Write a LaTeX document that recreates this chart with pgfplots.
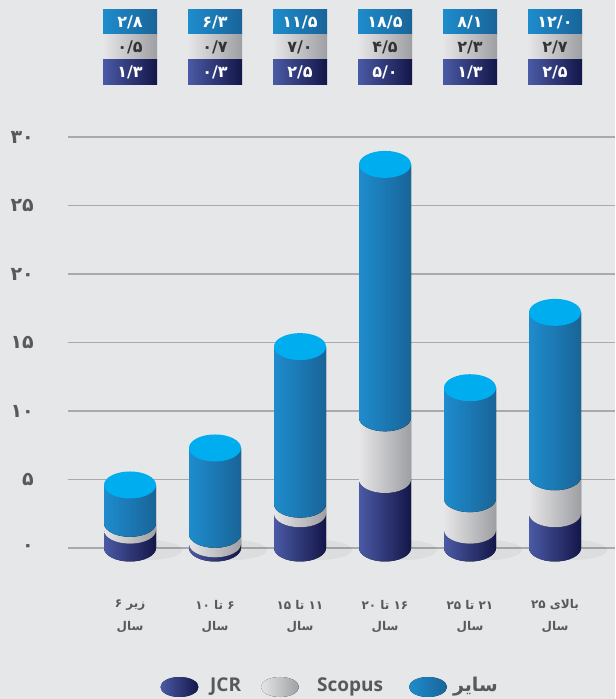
\documentclass[border=0pt]{standalone}
\usepackage{fontspec}
\setmainfont{Open Sans}
\newfontfamily\fa[Script=Arabic]{DejaVu Sans}
\usepackage{pgfplots}
\usepackage{pgfplotstable}
\pgfplotsset{compat=1.18}
\TeXXeTstate=1

\definecolor{bg}{RGB}{230,231,233}
\definecolor{gridc}{RGB}{170,170,172}
\definecolor{txt}{RGB}{88,89,91}
\definecolor{navyL}{RGB}{74,90,165}
\definecolor{navyR}{RGB}{20,22,72}
\definecolor{grayL}{RGB}{230,230,232}
\definecolor{grayR}{RGB}{158,159,163}
\definecolor{blueL}{RGB}{30,140,205}
\definecolor{blueR}{RGB}{25,100,152}
\definecolor{capc}{RGB}{0,174,239}

% stacked values: JCR, Scopus, other
\pgfplotstableread{
x jcr scopus other
0 1.3 0.5 2.8
1 0.3 0.7 6.3
2 2.5 0.7 11.5
3 5.0 4.5 18.5
4 1.3 2.3 8.1
5 2.5 2.7 12.0
}\datatable

% one cylinder slice from #2 to #3 at category #1
\newcommand\seg[5]{%
  \fill[left color=#4, right color=#5]
    ([xshift=-26pt]axis cs:#1,#3) -- ([xshift=-26pt]axis cs:#1,#2)
    arc[start angle=180, end angle=360, x radius=26pt, y radius=13.5pt]
    -- ([xshift=26pt]axis cs:#1,#3) -- cycle;}
\newcommand\cum[2]{\csname cum#1#2\endcsname}

% header box for category #1
\newcommand\hf{\fa\bfseries\fontsize{16}{18}\selectfont}
\newcommand\head[4]{%
  \fill[left color=blueL, right color=blueR] ([xshift=-27pt]axis cs:#1,39.270) rectangle ([xshift=27pt]axis cs:#1,37.445);
  \fill[left color=grayL, right color=grayR] ([xshift=-27pt]axis cs:#1,37.445) rectangle ([xshift=27pt]axis cs:#1,35.620);
  \fill[left color=navyL, right color=navyR] ([xshift=-27pt]axis cs:#1,35.620) rectangle ([xshift=27pt]axis cs:#1,33.796);
  \node[text=white, font=\hf] at (axis cs:#1,38.36) {#2};
  \node[text=black!80, font=\hf] at (axis cs:#1,36.53) {#3};
  \node[text=white, font=\hf] at (axis cs:#1,34.71) {#4};}
\newcommand\cf{\fa\bfseries\fontsize{12}{14}\selectfont}
\newcommand\cat[3]{%
  \node[text=txt, font=\cf] at (axis cs:#1,-4.16) {#2};
  \node[text=txt, font=\cf] at (axis cs:#1,-5.77) {#3};}
\newcommand\yf{\fa\bfseries\fontsize{19}{21}\selectfont}

\begin{document}
\begin{tikzpicture}
\fill[bg] (0,0) rectangle (615pt,699pt);

\pgfplotsinvokeforeach{0,...,5}{%
  \pgfplotstablegetelem{#1}{jcr}\of\datatable\let\va\pgfplotsretval
  \pgfplotstablegetelem{#1}{scopus}\of\datatable\let\vb\pgfplotsretval
  \pgfplotstablegetelem{#1}{other}\of\datatable\let\vc\pgfplotsretval
  \pgfmathsetmacro\tmpa{\va}\expandafter\xdef\csname cuma#1\endcsname{\tmpa}
  \pgfmathsetmacro\tmpb{\va+\vb}\expandafter\xdef\csname cumb#1\endcsname{\tmpb}
  \pgfmathsetmacro\tmpc{\va+\vb+\vc}\expandafter\xdef\csname cumc#1\endcsname{\tmpc}
}

\begin{axis}[at={(0,0)}, anchor=south west, scale only axis,
  width=615pt, height=699pt,
  xmin=-1.52941, xmax=5.70588, ymin=-11.0219, ymax=40,
  hide axis, clip=false]

% grid and y labels
\pgfplotsinvokeforeach{0,5,...,30}{%
  \draw[gridc, line width=1.4pt] (axis cs:-0.7294,#1) -- (axis cs:5.70588,#1);}
\node[anchor=east, text=txt, font=\yf, inner sep=0pt] at (axis cs:-1.1294,0) {۰};
\node[anchor=east, text=txt, font=\yf, inner sep=0pt] at (axis cs:-1.1294,5) {۵};
\node[anchor=east, text=txt, font=\yf, inner sep=0pt] at (axis cs:-1.1294,10) {۱۰};
\node[anchor=east, text=txt, font=\yf, inner sep=0pt] at (axis cs:-1.1294,15) {۱۵};
\node[anchor=east, text=txt, font=\yf, inner sep=0pt] at (axis cs:-1.1294,20) {۲۰};
\node[anchor=east, text=txt, font=\yf, inner sep=0pt] at (axis cs:-1.1294,25) {۲۵};
\node[anchor=east, text=txt, font=\yf, inner sep=0pt] at (axis cs:-1.1294,30) {۳۰};

% cylinders
\pgfplotsinvokeforeach{0,...,5}{%
  \fill[black, opacity=0.045] ([xshift=18pt,yshift=-2pt]axis cs:#1,0) ellipse[x radius=34pt, y radius=10pt];
  \edef\temp{%
    \noexpand\seg{#1}{0}{\cum{a}{#1}}{navyL}{navyR}%
    \noexpand\seg{#1}{\cum{a}{#1}}{\cum{b}{#1}}{grayL}{grayR}%
    \noexpand\seg{#1}{\cum{b}{#1}}{\cum{c}{#1}}{blueL}{blueR}%
    \noexpand\fill[capc] (axis cs:#1,\cum{c}{#1}) ellipse[x radius=26pt, y radius=13.5pt];}%
  \temp
}

% header table
\head{0}{۲/۸}{۰/۵}{۱/۳}
\head{1}{۶/۳}{۰/۷}{۰/۳}
\head{2}{۱۱/۵}{۷/۰}{۲/۵}
\head{3}{۱۸/۵}{۴/۵}{۵/۰}
\head{4}{۸/۱}{۲/۳}{۱/۳}
\head{5}{۱۲/۰}{۲/۷}{۲/۵}

% category labels
\cat{0}{\beginR زیر ۶\endR}{\beginR سال\endR}
\cat{1}{\beginR ۶ تا ۱۰\endR}{\beginR سال\endR}
\cat{2}{\beginR ۱۱ تا ۱۵\endR}{\beginR سال\endR}
\cat{3}{\beginR ۱۶ تا ۲۰\endR}{\beginR سال\endR}
\cat{4}{\beginR ۲۱ تا ۲۵\endR}{\beginR سال\endR}
\cat{5}{\beginR بالای ۲۵\endR}{\beginR سال\endR}

% legend
\fill[left color=navyL, right color=navyR] (axis cs:0.5824,-10.146) ellipse[x radius=19pt, y radius=10pt];
\node[anchor=west, text=txt, font=\bfseries\fontsize{19}{21}\selectfont, inner sep=0pt] at (axis cs:0.9412,-10.146) {JCR};
\fill[left color=grayL, right color=grayR] (axis cs:1.7647,-10.146) ellipse[x radius=19pt, y radius=10pt];
\node[anchor=west, text=txt, font=\bfseries\fontsize{19}{21}\selectfont, inner sep=0pt] at (axis cs:2.2,-10.146) {Scopus};
\fill[left color=blueL, right color=blueR] (axis cs:3.5059,-10.146) ellipse[x radius=19pt, y radius=10pt];
\node[anchor=east, text=txt, font=\fa\bfseries\fontsize{19}{21}\selectfont, inner sep=0pt] at (axis cs:4.3294,-10.146) {\beginR سایر\endR};
\end{axis}
\end{tikzpicture}
\end{document}
